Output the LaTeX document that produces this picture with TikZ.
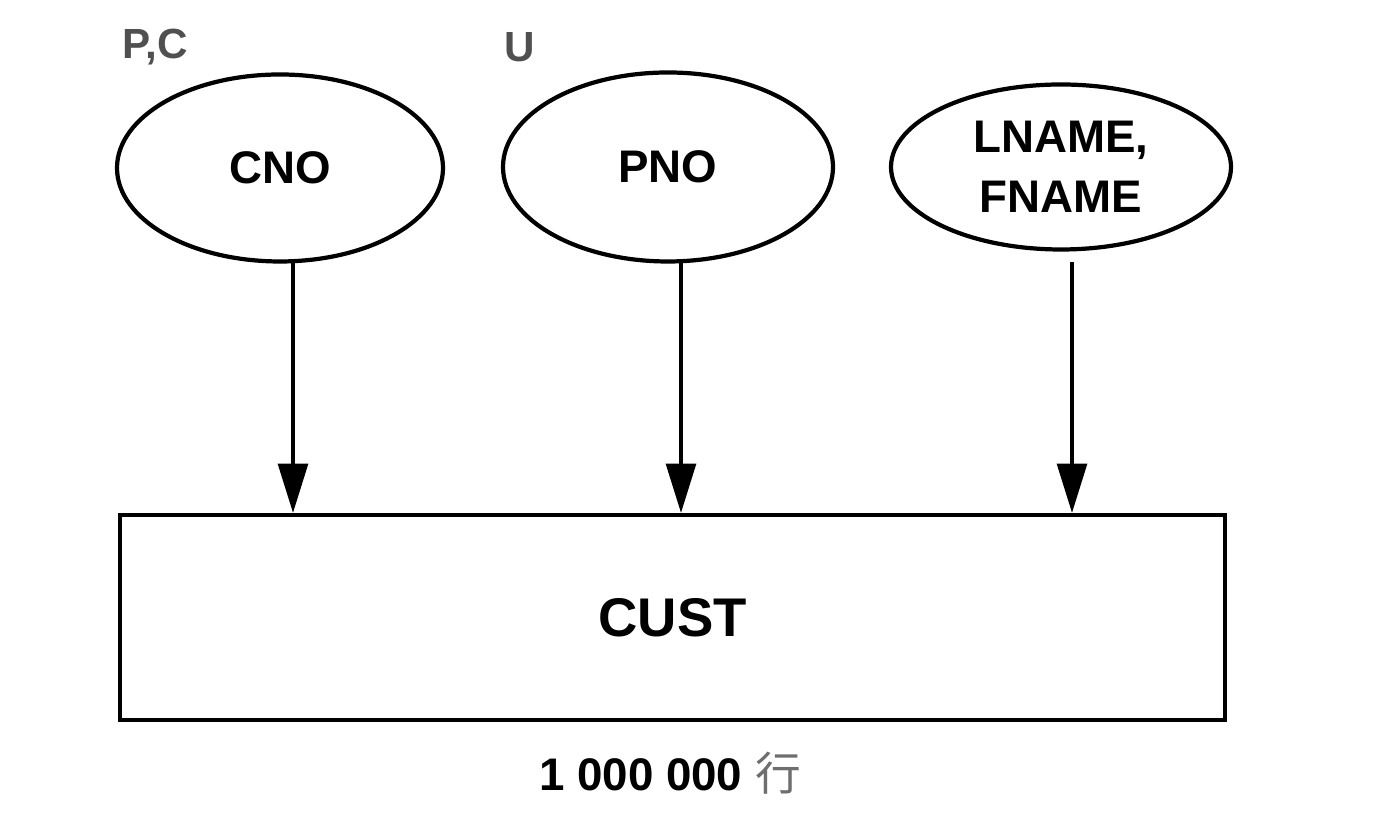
\documentclass[tikz,border=0pt]{standalone}
\usepackage{fontspec}
\setmainfont{Liberation Sans}
\newfontfamily\cjk{Noto Sans CJK SC}
\usetikzlibrary{shapes.geometric,arrows.meta}
\definecolor{lblGray}{RGB}{80,80,80}
\definecolor{cjkGray}{RGB}{110,110,110}

\tikzset{
  attr/.style={ellipse, draw, line width=1.2pt, inner sep=0pt, align=center,
    font=\fontsize{13}{17}\selectfont\bfseries},
  tbl/.style={rectangle, draw, line width=1.2pt, inner sep=0pt,
    minimum width=11.05cm, minimum height=2.05cm,
    font=\fontsize{15.5}{18}\selectfont\bfseries},
  usage/.style={text=lblGray, font=\fontsize{12}{14}\selectfont\bfseries},
  idxarrow/.style={line width=0.9pt, -{Triangle[width=8.5pt,length=14pt]}}
}

\begin{document}
\begin{tikzpicture}

  \useasboundingbox (0,0) rectangle (13.8,8.32);

  % Index columns
  \node[attr, minimum width=3.26cm, minimum height=1.87cm] (cno) at (2.80,6.64) {CNO};
  \node[attr, minimum width=3.30cm, minimum height=1.89cm] (pno) at (6.68,6.65) {PNO};
  \node[attr, minimum width=3.40cm, minimum height=1.65cm] (name) at (10.61,6.65) {LNAME,\\FNAME};

  % Usage labels
  \node[usage] (pc) at (1.55,7.85) {P,C};
  \node[usage] (u) at (5.20,7.85) {U};

  % Table
  \node[tbl] (cust) at (6.725,2.145) {CUST};
  \node[font=\fontsize{13}{15}\selectfont\bfseries] (rows) at (6.70,0.59)
    {1 000 000 {\cjk\mdseries\color{cjkGray}行}};

  % Arrows
  \coordinate (a1) at (2.93,5.70);
  \coordinate (a2) at (6.81,5.70);
  \coordinate (a3) at (10.72,5.70);
  \foreach \a in {a1,a2,a3} {
    \draw[idxarrow] (\a) -- (cust.north -| \a);
  }

\end{tikzpicture}
\end{document}
